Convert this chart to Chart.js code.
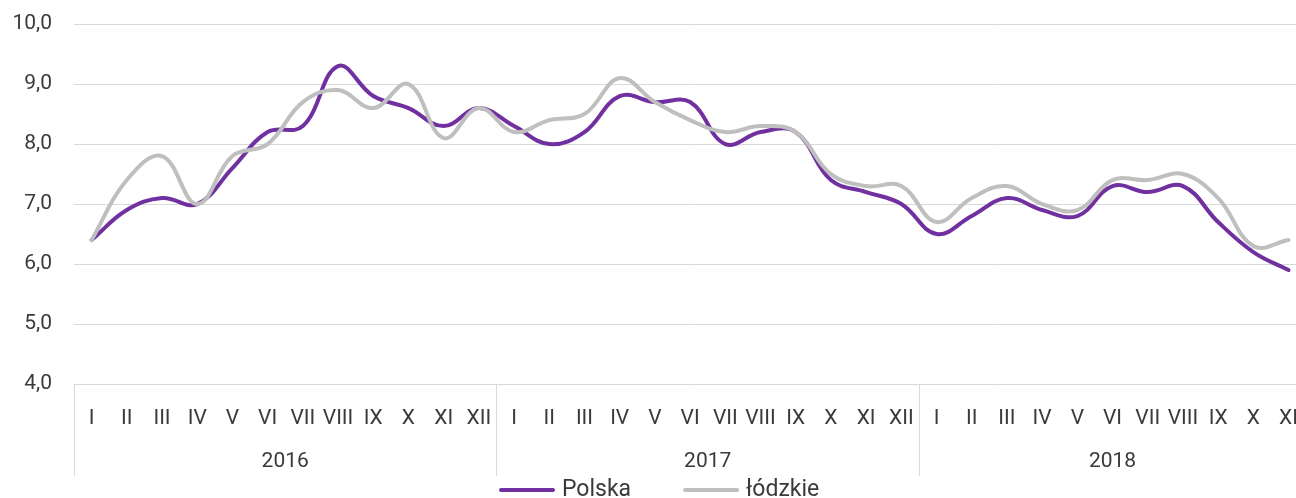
<!DOCTYPE html>
<html><head><meta charset="utf-8">
<script src="https://cdn.jsdelivr.net/npm/chart.js@4.4.1/dist/chart.umd.min.js"></script>
<style>
html,body{margin:0;padding:0;background:#fff;overflow:hidden}
#wrap{width:1296px;height:498px;overflow:hidden;position:relative}
canvas{display:block}
</style></head>
<body><div id="wrap"><canvas id="c" width="1320" height="498"></canvas></div>
<script>
const months = ['I','II','III','IV','V','VI','VII','VIII','IX','X','XI','XII',
                'I','II','III','IV','V','VI','VII','VIII','IX','X','XI','XII',
                'I','II','III','IV','V','VI','VII','VIII','IX','X','XI'];
const years = ['2016','2017','2018'];
const yearMonthCounts = [12, 12, 11];
const polska  = [6.4, 6.9, 7.1, 7.0, 7.6, 8.2, 8.3, 9.3, 8.8, 8.6, 8.3, 8.6,
                 8.3, 8.0, 8.2, 8.8, 8.7, 8.7, 8.0, 8.2, 8.2, 7.4, 7.2, 7.0,
                 6.5, 6.8, 7.1, 6.9, 6.8, 7.3, 7.2, 7.3, 6.7, 6.2, 5.9];
const lodzkie = [6.4, 7.4, 7.8, 7.0, 7.8, 8.0, 8.7, 8.9, 8.6, 9.0, 8.1, 8.6,
                 8.2, 8.4, 8.5, 9.1, 8.7, 8.4, 8.2, 8.3, 8.2, 7.5, 7.3, 7.3,
                 6.7, 7.1, 7.3, 7.0, 6.9, 7.4, 7.4, 7.5, 7.1, 6.3, 6.4];
const seriesNames = ['Polska', 'łódzkie'];
const seriesColors = ['#7030A0', '#BFBFBF'];
const yMin = 4, yMax = 10, yStep = 1;

const FONT = 'Roboto, "Open Sans", sans-serif';
const TEXT = '#3a3a3a';
const GRID = '#d9d9d9';

const yearAxisPlugin = {
  id: 'yearAxis',
  afterDraw(chart) {
    const ctx = chart.ctx, x = chart.scales.x, area = chart.chartArea;
    const w = x.getPixelForValue(1) - x.getPixelForValue(0);
    ctx.save();
    ctx.strokeStyle = GRID; ctx.lineWidth = 1;
    ctx.fillStyle = TEXT;
    ctx.font = '21px ' + FONT;
    ctx.textAlign = 'center'; ctx.textBaseline = 'middle';
    let idx = 0;
    years.forEach((yr, g) => {
      const n = yearMonthCounts[g];
      const left = x.getPixelForValue(idx) - w / 2;
      const right = x.getPixelForValue(idx + n - 1) + w / 2;
      const lx = Math.round(left) + 0.5;
      ctx.beginPath(); ctx.moveTo(lx, area.bottom); ctx.lineTo(lx, 476); ctx.stroke();
      ctx.fillText(yr, (left + right) / 2, 462);
      idx += n;
    });
    ctx.restore();
  }
};

const legendPlugin = {
  id: 'customLegend',
  afterDraw(chart) {
    const ctx = chart.ctx;
    ctx.save();
    ctx.font = '23px ' + FONT;
    ctx.textBaseline = 'alphabetic';
    ctx.textAlign = 'left';
    let cx = 501;
    chart.data.datasets.forEach(ds => {
      ctx.strokeStyle = ds.borderColor; ctx.lineWidth = 4; ctx.lineCap = 'round';
      ctx.beginPath(); ctx.moveTo(cx, 490); ctx.lineTo(cx + 52, 490); ctx.stroke();
      ctx.fillStyle = TEXT;
      ctx.fillText(ds.label, cx + 61, 496);
      cx += 61 + ctx.measureText(ds.label).width + 54;
    });
    ctx.restore();
  }
};

new Chart(document.getElementById('c'), {
  type: 'line',
  data: {
    labels: months,
    datasets: [
      { label: seriesNames[0], data: polska, borderColor: seriesColors[0], backgroundColor: seriesColors[0],
        borderWidth: 4, pointRadius: 0, tension: 0.4, borderCapStyle: 'round', fill: false, order: 2 },
      { label: seriesNames[1], data: lodzkie, borderColor: seriesColors[1], backgroundColor: seriesColors[1],
        borderWidth: 4, pointRadius: 0, tension: 0.4, borderCapStyle: 'round', fill: false, order: 1 }
    ]
  },
  options: {
    responsive: false,
    animation: false,
    layout: { padding: { top: 24, left: 0, right: 0, bottom: 0 } },
    plugins: { legend: { display: false }, tooltip: { enabled: false } },
    scales: {
      x: {
        offset: true,
        grid: { display: false, drawTicks: false },
        border: { display: false },
        ticks: { autoSkip: false, maxRotation: 0, color: TEXT, padding: 22,
                 font: { family: FONT, size: 21 } },
        afterFit(s) { s.height = 114; }
      },
      y: {
        min: yMin, max: yMax,
        grid: { color: GRID, lineWidth: 1, drawTicks: false },
        border: { display: false },
        ticks: { stepSize: yStep, color: TEXT, padding: 22,
                 font: { family: FONT, size: 21, lineHeight: 0.2 },
                 callback: v => v.toFixed(1).replace('.', ',') },
        afterFit(s) { s.width = 74; }
      }
    }
  },
  plugins: [yearAxisPlugin, legendPlugin]
});
</script>
</body></html>
